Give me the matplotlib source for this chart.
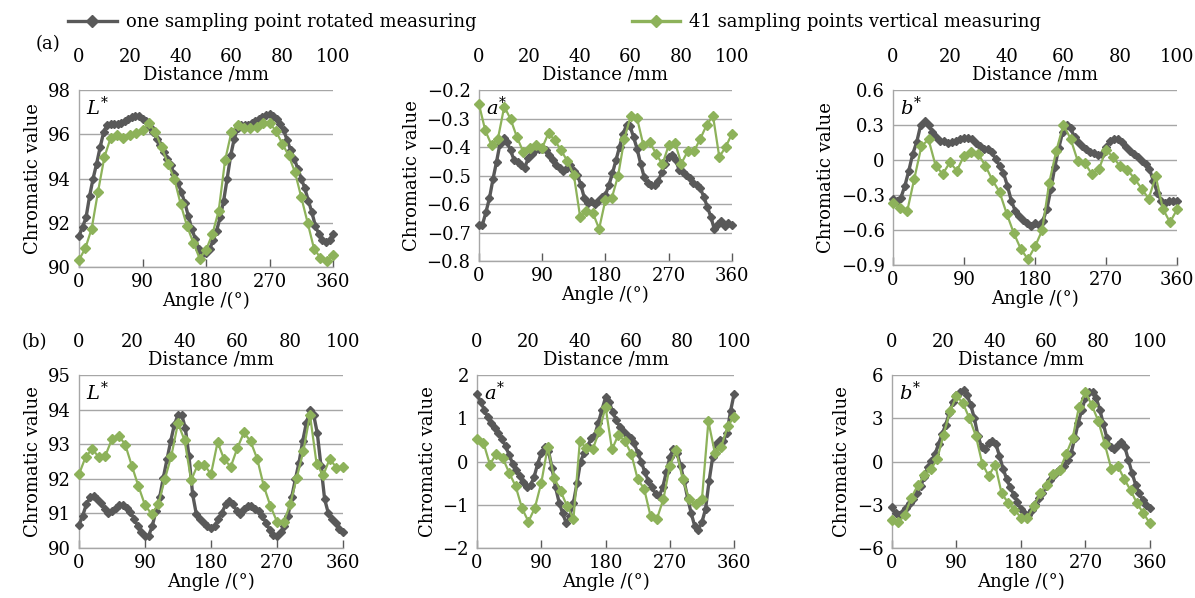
import matplotlib.pyplot as plt
import numpy as np
from matplotlib.lines import Line2D

plt.rcParams['font.family'] = 'DejaVu Serif'
plt.rcParams['mathtext.fontset'] = 'dejavuserif'

GRAY = '#595959'
GREEN = '#8db25a'
GRID = '#a6a6a6'

# sampling grids (degrees): rotated every 5 deg, vertical 41 points (2.5 mm steps)
angle_rot = np.arange(0, 361, 5)
angle_vert = np.arange(0, 361, 9)

# ---- row (a) ----
a_L_rot = [91.4, 91.8, 92.24, 93.2, 94.0, 94.67, 95.42, 96.1, 96.44, 96.48, 96.48, 96.48,
           96.53, 96.6, 96.7, 96.8, 96.83, 96.82, 96.7, 96.6, 96.33, 96.1, 95.8, 95.53,
           95.2, 94.9, 94.6, 94.2, 93.8, 93.4, 92.9, 92.3, 91.7, 91.26, 90.8, 90.58,
           90.65, 90.8, 91.2, 91.64, 92.24, 93.0, 94.0, 95.05, 95.8, 96.26, 96.4, 96.4,
           96.44, 96.53, 96.6, 96.67, 96.8, 96.86, 96.9, 96.83, 96.7, 96.48, 96.18, 95.73,
           95.27, 94.9, 94.44, 94.0, 93.55, 93.0, 92.47, 91.86, 91.48, 91.23, 91.14, 91.23,
           91.48]
a_L_vert = [90.32, 90.85, 91.74, 93.41, 94.97, 95.85, 95.95, 95.85, 95.95, 96.06, 96.18,
            96.53, 96.1, 95.42, 94.67, 94.0, 92.85, 91.86, 91.1, 90.38, 90.77,
            91.48, 92.55, 94.82, 96.1, 96.44, 96.29, 96.29, 96.33, 96.53, 96.53,
            96.14, 95.58, 95.05, 94.29, 93.15, 92.0, 90.83, 90.42, 90.27, 90.53]

a_a_rot = [-0.672, -0.672, -0.628, -0.579, -0.512, -0.452, -0.388, -0.369, -0.383, -0.412,
           -0.446, -0.452, -0.464, -0.473, -0.44, -0.423, -0.412, -0.408, -0.408, -0.412,
           -0.429, -0.446, -0.464, -0.475, -0.484, -0.475, -0.464, -0.484, -0.498, -0.533,
           -0.579, -0.597, -0.588, -0.600, -0.591, -0.577, -0.568, -0.533, -0.492, -0.446,
           -0.400, -0.354, -0.323, -0.327, -0.365, -0.406, -0.458, -0.504, -0.527, -0.533,
           -0.533, -0.521, -0.489, -0.458, -0.435, -0.429, -0.446, -0.481, -0.489, -0.498,
           -0.510, -0.527, -0.533, -0.545, -0.575, -0.61, -0.645, -0.689, -0.67, -0.66,
           -0.677, -0.667, -0.672]
a_a_vert = [-0.250, -0.342, -0.394, -0.371, -0.258, -0.302, -0.365, -0.417, -0.403, -0.394,
            -0.403, -0.351, -0.377, -0.412, -0.450, -0.498, -0.645, -0.623, -0.631, -0.687,
            -0.585, -0.579, -0.501, -0.371, -0.290, -0.299, -0.394, -0.383, -0.423, -0.461,
            -0.394, -0.385, -0.458, -0.415, -0.415, -0.371, -0.323, -0.290, -0.435, -0.400,
            -0.354]

a_b_rot = [-0.332, -0.352, -0.323, -0.222, -0.092, 0.052, 0.153, 0.297, 0.332, 0.297,
           0.239, 0.196, 0.167, 0.159, 0.147, 0.153, 0.167, 0.182, 0.19, 0.19,
           0.182, 0.147, 0.118, 0.095, 0.09, 0.066, 0.009, -0.049, -0.112, -0.222,
           -0.352, -0.438, -0.482, -0.511, -0.539, -0.568, -0.54, -0.56, -0.52, -0.42,
           -0.25, -0.06, 0.1, 0.24, 0.3, 0.27, 0.2, 0.15, 0.12, 0.095,
           0.072, 0.061, 0.043, 0.052, 0.11, 0.167, 0.182, 0.182, 0.153, 0.11,
           0.081, 0.052, 0.023, -0.006, -0.035, -0.078, -0.179, -0.28, -0.352, -0.366,
           -0.352, -0.352, -0.352]
a_b_vert = [-0.372, -0.41, -0.438, -0.159, 0.118, 0.176, -0.049, -0.121, -0.02, -0.092,
            0.038, 0.072, 0.052, -0.049, -0.173, -0.274, -0.459, -0.626, -0.764, -0.851,
            -0.741, -0.603, -0.193, 0.081, 0.303, 0.182, -0.006, -0.026, -0.121, -0.078,
            0.087, 0.023, -0.055, -0.084, -0.159, -0.245, -0.332, -0.141, -0.418, -0.534,
            -0.424]

# ---- row (b) ----
b_L_rot = [90.66, 90.93, 91.26, 91.46, 91.50, 91.41, 91.31, 91.14, 91.02, 91.07,
           91.17, 91.24, 91.24, 91.17, 91.04, 90.85, 90.64, 90.45, 90.34, 90.35,
           90.64, 91.07, 91.46, 92.03, 92.56, 93.08, 93.56, 93.85, 93.85, 93.47,
           92.65, 91.55, 90.98, 90.83, 90.72, 90.64, 90.59, 90.64, 90.83, 91.02,
           91.26, 91.36, 91.26, 91.07, 90.98, 91.12, 91.20, 91.20, 91.12, 91.07,
           90.93, 90.72, 90.53, 90.37, 90.34, 90.45, 90.64, 90.93, 91.46, 91.98,
           92.46, 93.08, 93.61, 93.98, 93.85, 93.32, 92.37, 91.41, 91.01, 90.85,
           90.72, 90.56, 90.47]
b_L_vert = [92.13, 92.63, 92.86, 92.63, 92.67, 93.15, 93.25, 92.99, 92.38, 91.79,
            91.24, 90.98, 91.26, 91.98, 92.67, 93.61, 93.11, 91.96, 92.41, 92.41,
            92.13, 93.06, 92.56, 92.35, 92.89, 93.34, 93.08, 92.58, 91.79, 91.22,
            90.76, 90.74, 91.26, 92.03, 92.80, 93.85, 92.44, 92.10, 92.58, 92.32,
            92.35]

b_a_rot = [1.56, 1.38, 1.2, 1.02, 0.9, 0.78, 0.65, 0.52, 0.35, 0.15,
           -0.05, -0.2, -0.33, -0.48, -0.6, -0.55, -0.35, -0.05, 0.2, 0.33,
           0.25, -0.15, -0.6, -0.95, -1.2, -1.43, -1.25, -0.95, -0.5, 0.0,
           0.2, 0.35, 0.55, 0.62, 0.9, 1.2, 1.48, 1.38, 1.15, 0.95,
           0.8, 0.7, 0.62, 0.55, 0.42, 0.2, 0.0, -0.25, -0.45, -0.6,
           -0.75, -0.8, -0.6, -0.25, 0.1, 0.3, 0.2, -0.1, -0.45, -0.85,
           -1.2, -1.5, -1.58, -1.4, -1.1, -0.45, 0.1, 0.4, 0.5, 0.48,
           0.66, 1.16, 1.56]
b_a_vert = [0.53, 0.43, -0.07, 0.18, 0.08, -0.26, -0.57, -1.08, -1.39, -1.07,
            -0.49, 0.34, -0.38, -0.68, -1.03, -1.33, 0.47, 0.31, 0.28, 0.70,
            1.26, 0.28, 0.62, 0.47, 0.18, -0.41, -0.63, -1.26, -1.32, -0.87,
            -0.10, 0.26, -0.41, -0.87, -0.99, -0.87, 0.93, 0.20, 0.34, 0.81,
            1.04]

b_b_rot = [-3.13, -3.59, -3.72, -3.5, -3.2, -2.9, -2.6, -2.2, -1.7, -1.1,
           -0.4, 0.05, 0.5, 1.2, 1.9, 2.55, 3.35, 4.1, 4.6, 4.85,
           4.97, 4.6, 3.9, 3.0, 1.8, 1.0, 0.9, 1.3, 1.45, 1.2,
           0.4, -0.5, -1.2, -1.8, -2.3, -2.8, -3.3, -3.65, -3.7, -3.35,
           -2.95, -2.5, -2.2, -1.7, -1.3, -1.0, -0.7, -0.5, -0.3, 0.1,
           0.6, 1.6, 2.7, 3.6, 4.4, 4.85, 4.8, 4.4, 3.6, 2.6,
           1.6, 1.0, 0.85, 1.15, 1.35, 1.0, 0.1, -0.8, -1.6, -2.2,
           -2.7, -3.0, -3.2]
b_b_vert = [-4.05, -4.23, -3.70, -2.51, -1.66, -0.97, -0.55, 0.14, 1.86, 3.47,
            4.55, 4.05, 3.01, 1.79, -0.14, -1.01, -0.21, -2.21, -2.85, -3.36,
            -3.89, -3.9, -3.1, -2.2, -1.6, -0.9, -0.6, 0.5, 1.6, 3.8,
            4.8, 3.9, 2.8, 1.2, -0.5, -0.3, -1.2, -2.0, -2.9, -3.6,
            -4.3]

panels = [
    # tag, rot, vert, ylim, yticks, tick labels, rect (left, bottom, width, height)
    (r'$L^{*}$', a_L_rot, a_L_vert, (90, 98), [90, 92, 94, 96, 98], None,
     [0.0661, 0.5535, 0.2126, 0.296]),
    (r'$a^{*}$', a_a_rot, a_a_vert, (-0.8, -0.2), [-0.8, -0.7, -0.6, -0.5, -0.4, -0.3, -0.2],
     ['−0.8', '−0.7', '−0.6', '−0.5', '−0.4', '−0.3', '−0.2'],
     [0.4008, 0.5635, 0.2117, 0.2860]),
    (r'$b^{*}$', a_b_rot, a_b_vert, (-0.9, 0.6), [-0.9, -0.6, -0.3, 0, 0.3, 0.6],
     ['−0.9', '−0.6', '−0.3', '0', '0.3', '0.6'],
     [0.7473, 0.5569, 0.2377, 0.2926]),
    (r'$L^{*}$', b_L_rot, b_L_vert, (90, 95), [90, 91, 92, 93, 94, 95], None,
     [0.0661, 0.0836, 0.2209, 0.2893]),
    (r'$a^{*}$', b_a_rot, b_a_vert, (-2, 2), [-2, -1, 0, 1, 2],
     ['−2', '−1', '0', '1', '2'],
     [0.3992, 0.0836, 0.2151, 0.2893]),
    (r'$b^{*}$', b_b_rot, b_b_vert, (-6, 6), [-6, -3, 0, 3, 6],
     ['−6', '−3', '0', '3', '6'],
     [0.7464, 0.0836, 0.2159, 0.2893]),
]

FS = 13

fig = plt.figure(figsize=(11.95, 5.98), dpi=100)

for tag, rot, vert, ylim, yticks, ylabels, rect in panels:
    ax = fig.add_axes(rect)
    ax.plot(angle_rot, rot, color=GRAY, lw=2.4, marker='D', ms=4,
            clip_on=False, zorder=3)
    ax.plot(angle_vert, vert, color=GREEN, lw=1.6, marker='D', ms=5,
            clip_on=False, zorder=4)
    ax.set_xlim(0, 360)
    ax.set_ylim(*ylim)
    ax.set_xticks([0, 90, 180, 270, 360])
    ax.set_yticks(yticks)
    if ylabels is not None:
        ax.set_yticklabels(ylabels)
    ax.yaxis.grid(True, color=GRID, lw=1.0)
    ax.set_axisbelow(True)
    for s in ['top', 'right']:
        ax.spines[s].set_visible(False)
    for s in ['left', 'bottom']:
        ax.spines[s].set_color(GRID)
        ax.spines[s].set_linewidth(1.0)
    ax.tick_params(axis='y', length=0, pad=6, labelsize=FS)
    ax.tick_params(axis='x', direction='in', length=6, width=1, color=GRAY,
                   pad=4, labelsize=FS)
    ax.set_xlabel('Angle /(°)', fontsize=FS, labelpad=1)
    ax.set_ylabel('Chromatic value', fontsize=FS, labelpad=4)

    sec = ax.secondary_xaxis('top', functions=(lambda a: a / 3.6, lambda d: d * 3.6))
    sec.set_xticks([0, 20, 40, 60, 80, 100])
    sec.spines['top'].set_visible(False)
    sec.tick_params(length=0, pad=17, labelsize=FS)
    ax.annotate('Distance /mm', xy=(0.5, 1), xycoords='axes fraction',
                xytext=(0, 11), textcoords='offset points',
                ha='center', va='center', fontsize=FS)
    ax.annotate(tag, xy=(0, 1), xycoords='axes fraction', xytext=(5, -4),
                textcoords='offset points', ha='left', va='top', fontsize=FS + 1)

fig.text(48 / 1195, 1 - 44 / 598, '(a)', ha='center', va='center', fontsize=FS)
fig.text(34 / 1195, 1 - 342 / 598, '(b)', ha='center', va='center', fontsize=FS)

handles = [Line2D([], [], color=GRAY, lw=2.4, marker='D', ms=6),
           Line2D([], [], color=GREEN, lw=2.4, marker='D', ms=6)]
fig.legend(handles, ['one sampling point rotated measuring',
                     '41 sampling points vertical measuring'],
           loc='center left', bbox_to_anchor=(68 / 1195, 1 - 22 / 598),
           ncol=2, frameon=False, fontsize=FS, numpoints=1,
           handlelength=2.7, handletextpad=0.5, columnspacing=8.6,
           borderaxespad=0, borderpad=0)

fig.savefig('out.png', dpi=100)
